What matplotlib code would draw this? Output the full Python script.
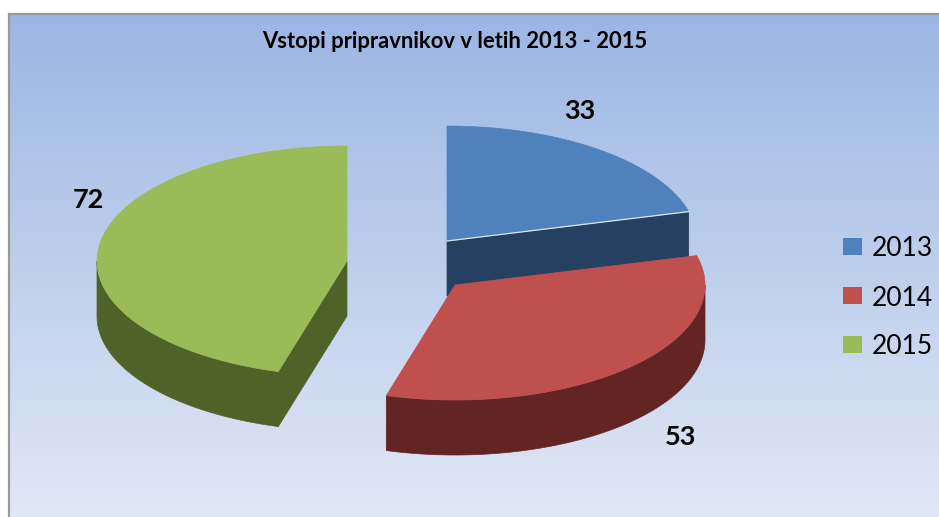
import numpy as np
import matplotlib
matplotlib.use("Agg")
import matplotlib.pyplot as plt
from matplotlib.patches import Polygon, Rectangle

years = ["2013", "2014", "2015"]
values = [33, 53, 72]
top_colors = ["#4F81BD", "#C0504D", "#9BBB59"]
side_colors = ["#254061", "#632523", "#4F6228"]

# pixel layout, the axes run in image pixels
centers = [(447, 241), (455, 285), (347, 261)]
rx, ry = 250, 115
depth = 55
label_pos = [(580, 111), (680, 437), (88, 200)]
draw_order = [0, 2, 1]

plt.rcParams["font.family"] = ["Lato", "DejaVu Sans"]

fig = plt.figure(figsize=(9.39, 5.17), dpi=100)
ax = fig.add_axes([0, 0, 1, 1])
ax.axis("off")

# background gradient inside the chart frame
grad = np.linspace(0, 1, 256)[:, None, None]
top = np.array([155, 182, 227]) / 255
bottom = np.array([225, 232, 245]) / 255
ax.imshow(top + (bottom - top) * grad, extent=[9, 939, 517, 14], aspect="auto", zorder=0)
ax.set_xlim(0, 939)
ax.set_ylim(517, 0)
ax.plot([9, 9], [517, 14], color="#999999", lw=1.6, zorder=1)
ax.plot([9, 939], [14, 14], color="#999999", lw=1.6, zorder=1)


def ellipse(c, deg):
    a = np.radians(deg)
    return c[0] + rx * np.sin(a), c[1] - ry * np.cos(a)


total = sum(values)
ends = np.cumsum(values) / total * 360
starts = np.r_[0, ends[:-1]]

for i in draw_order:
    c = centers[i]
    s, e = starts[i], ends[i]
    z = 3 + draw_order.index(i)
    # radial wall on the cut that faces the viewer
    cut = {0: e, 2: s}.get(i)
    if cut is not None:
        ex, ey = ellipse(c, cut)
        wall = [(c[0], c[1]), (ex, ey), (ex, ey + depth), (c[0], c[1] + depth)]
        ax.add_patch(Polygon(wall, fc=side_colors[i], ec=side_colors[i], lw=0.5, zorder=z))
    # outer rim, only the front half of the ellipse shows
    lo, hi = max(s, 90), min(e, 270)
    if hi > lo:
        t = np.linspace(lo, hi, 120)
        xs, ys = ellipse(c, t)
        rim = np.r_[np.c_[xs, ys], np.c_[xs[::-1], ys[::-1] + depth]]
        ax.add_patch(Polygon(rim, fc=side_colors[i], ec=side_colors[i], lw=0.5, zorder=z))
    t = np.linspace(s, e, 200)
    xs, ys = ellipse(c, t)
    face = np.r_[[c], np.c_[xs, ys]]
    ax.add_patch(Polygon(face, fc=top_colors[i], ec=top_colors[i], lw=0.5, zorder=z + 0.1))
    if i == 0:
        ex, ey = ellipse(c, e)
        ax.plot([c[0], ex], [c[1], ey], color="#DCE6F2", lw=0.9, zorder=z + 0.2)

for i, v in enumerate(values):
    ax.text(label_pos[i][0], label_pos[i][1], str(v), fontsize=19.5, fontweight="bold",
            ha="center", va="center", color="black", zorder=10)

ax.text(455, 41.5, "Vstopi pripravnikov v letih 2013 - 2015", fontsize=15.8, fontweight="bold",
        ha="center", va="center", color="black", zorder=10)

# legend
for i, y in enumerate(years):
    yc = 246 + i * 49
    ax.add_patch(Rectangle((843, yc - 8.5), 19, 17, fc=top_colors[i], ec="none", zorder=10))
    ax.text(872, yc + 3, y, fontsize=19, ha="left", va="center", color="black", zorder=10)

fig.savefig("out.png", dpi=100)
